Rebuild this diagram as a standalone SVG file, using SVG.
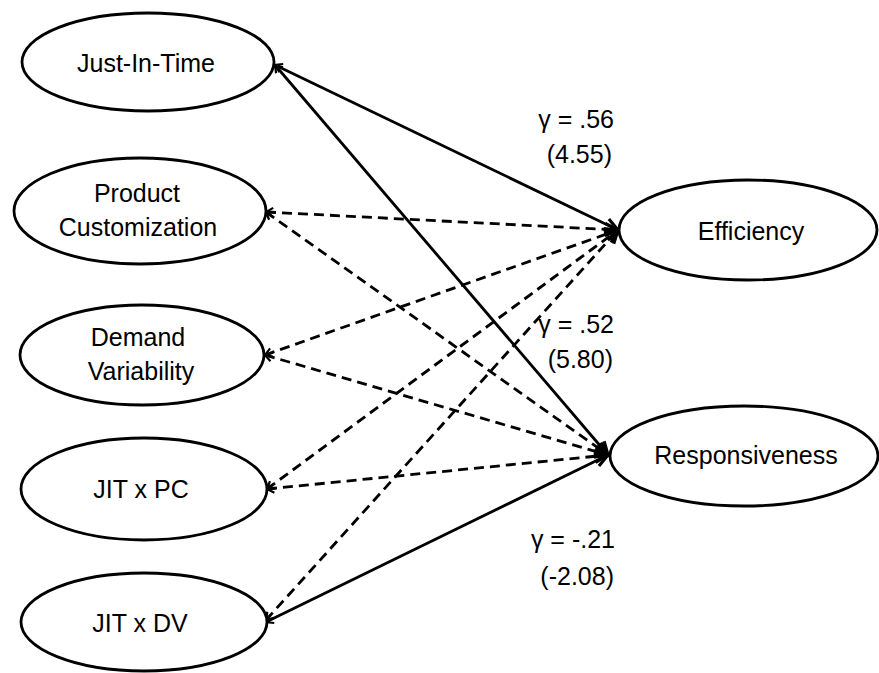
<svg xmlns="http://www.w3.org/2000/svg" width="879" height="673" viewBox="0 0 879 673">
<style>
.node ellipse{fill:#fff;stroke:#000;stroke-width:2.8}
text{font-family:"Liberation Sans",Arial,sans-serif;font-size:25px;fill:#000;text-anchor:middle}
.lbl text{text-anchor:end}
.c{fill:none;stroke:#000;stroke-width:2.8;marker-start:url(#s);marker-end:url(#e)}
.d{stroke-dasharray:10 6}
</style>
<defs>
<marker id="e" markerUnits="userSpaceOnUse" markerWidth="20" markerHeight="20" refX="0" refY="0" orient="auto" overflow="visible">
<path d="M-13,-6 L0,0 L-13,6" fill="none" stroke="#000" stroke-width="3.2" stroke-dasharray="none"/>
</marker>
<marker id="s" markerUnits="userSpaceOnUse" markerWidth="20" markerHeight="20" refX="0" refY="0" orient="auto" overflow="visible">
<path d="M7,-4.5 L0,0 L7,4.5" fill="none" stroke="#000" stroke-width="2.2" stroke-dasharray="none"/>
</marker>
</defs>
<g id="connectors">
<path class="c" d="M275,65 L618,230"/>
<path class="c" d="M275,65 L608,455"/>
<path class="c d" d="M266,212 L618,230"/>
<path class="c d" d="M266,212 L608,455"/>
<path class="c d" d="M265,355 L618,230"/>
<path class="c d" d="M265,355 L608,455"/>
<path class="c d" d="M267,489 L618,230"/>
<path class="c d" d="M267,489 L608,455"/>
<path class="c d" d="M266,620 L618,230"/>
<path class="c" d="M266,622 L608,455"/>
</g>
<g id="jit" class="node"><ellipse cx="148" cy="62" rx="126" ry="49"/><text x="146" y="72">Just-In-Time</text></g>
<g id="pc" class="node"><ellipse cx="140" cy="211" rx="126" ry="53"/><text x="137" y="202">Product</text><text x="138" y="236">Customization</text></g>
<g id="dv" class="node"><ellipse cx="142" cy="355" rx="122" ry="50"/><text x="138" y="346">Demand</text><text x="141" y="380">Variability</text></g>
<g id="jitpc" class="node"><ellipse cx="144" cy="489" rx="123" ry="51"/><text x="141" y="498">JIT x PC</text></g>
<g id="jitdv" class="node"><ellipse cx="144" cy="622" rx="123" ry="49"/><text x="140" y="632">JIT x DV</text></g>
<g id="eff" class="node"><ellipse cx="748" cy="230" rx="129" ry="50"/><text x="751" y="240">Efficiency</text></g>
<g id="resp" class="node"><ellipse cx="744" cy="456" rx="134" ry="50"/><text x="746" y="464">Responsiveness</text></g>
<g class="lbl">
<text x="614" y="128">γ = .56</text><text x="612" y="163">(4.55)</text>
<text x="614" y="333">γ = .52</text><text x="613" y="368">(5.80)</text>
<text x="615" y="548">γ = -.21</text><text x="614" y="585">(-2.08)</text>
</g>
</svg>
